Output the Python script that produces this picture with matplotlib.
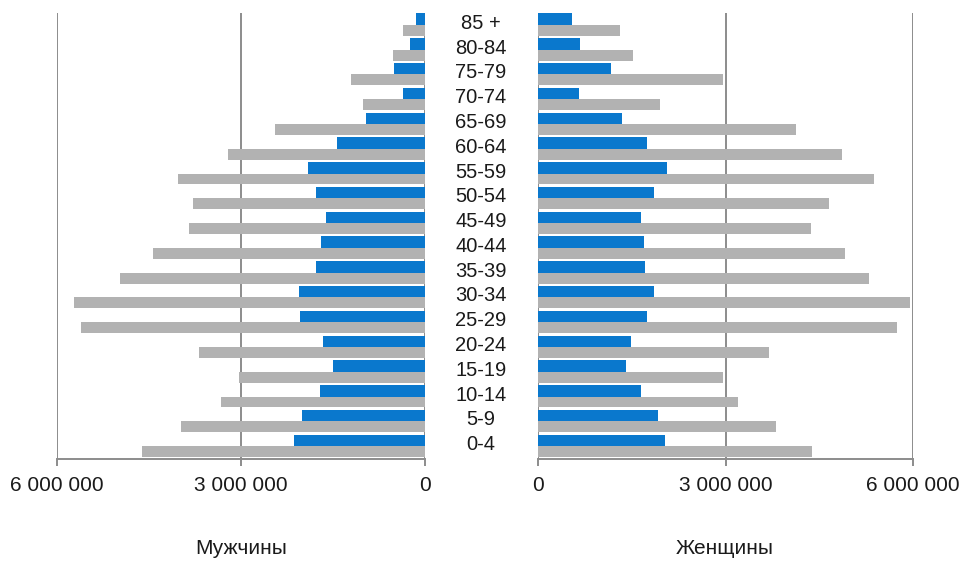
import matplotlib
matplotlib.use("Agg")
import matplotlib.pyplot as plt
from matplotlib.ticker import FuncFormatter
import numpy as np

ages = ["0-4", "5-9", "10-14", "15-19", "20-24", "25-29", "30-34", "35-39", "40-44",
		"45-49", "50-54", "55-59", "60-64", "65-69", "70-74", "75-79", "80-84", "85 +"]

# values, in millions, from youngest to oldest
men_blue = [2.14, 2.01, 1.72, 1.50, 1.67, 2.04, 2.05, 1.78, 1.69,
			1.62, 1.78, 1.90, 1.43, 0.96, 0.36, 0.51, 0.24, 0.15]
men_gray = [4.61, 3.98, 3.32, 3.03, 3.69, 5.61, 5.72, 4.98, 4.43,
			3.84, 3.79, 4.02, 3.22, 2.44, 1.01, 1.21, 0.52, 0.36]
women_blue = [2.03, 1.92, 1.64, 1.41, 1.48, 1.74, 1.85, 1.71, 1.69,
			  1.65, 1.85, 2.06, 1.75, 1.35, 0.65, 1.16, 0.67, 0.54]
women_gray = [4.39, 3.80, 3.20, 2.96, 3.70, 5.75, 5.95, 5.30, 4.91,
			  4.36, 4.65, 5.37, 4.87, 4.12, 1.95, 2.96, 1.52, 1.31]

ticks = [0, 3000000, 6000000]
blue = "#0A78CD"
gray = "#B2B2B2"
line_color = "#8C8C8C"

plt.rcParams["font.family"] = ["Liberation Sans", "DejaVu Sans"]

figure = plt.figure(figsize = (9.64, 5.84), dpi = 100)
left = figure.add_axes([57 / 964, 1 - 459 / 584, 368 / 964, 446 / 584])
right = figure.add_axes([538 / 964, 1 - 459 / 584, 375 / 964, 446 / 584])

y = np.arange(len(ages))

def space_thousands(value, position):
	return f"{int(value):,}".replace(",", " ")

for axes, blue_values, gray_values in ((left, men_blue, men_gray), (right, women_blue, women_gray)):
	axes.barh(y + 0.02, np.array(blue_values) * 1e6, height = 0.46, align = "edge", color = blue, zorder = 3)
	axes.barh(y - 0.42, np.array(gray_values) * 1e6, height = 0.44, align = "edge", color = gray, zorder = 3)
	axes.set_ylim(-0.5, 17.5)
	axes.set_yticks([])
	axes.set_xticks(ticks)
	axes.xaxis.set_major_formatter(FuncFormatter(space_thousands))
	axes.grid(axis = "x", color = line_color, linewidth = 1.4, zorder = 1)
	for side in ("top", "left", "right"):
		axes.spines[side].set_visible(False)
	axes.spines["bottom"].set_color(line_color)
	axes.spines["bottom"].set_linewidth(1.4)
	axes.tick_params(axis = "x", direction = "out", length = 5, width = 1.4, color = line_color,
					 labelsize = 15, labelcolor = "#1A1A1A", pad = 7)

left.set_xlim(6000000, 0)
right.set_xlim(0, 6000000)

# age group labels between the two halves
for position, age in zip(y, ages):
	figure.text(481 / 964, left.transData.transform((0, position + 0.08))[1] / 584, age,
				ha = "center", va = "center", fontsize = 14.5, color = "#1A1A1A")

figure.text(241 / 964, 1 - 548 / 584, "Мужчины", ha = "center", va = "center", fontsize = 15, color = "#1A1A1A")
figure.text(725 / 964, 1 - 548 / 584, "Женщины", ha = "center", va = "center", fontsize = 15, color = "#1A1A1A")

figure.savefig("out.png", dpi = 100)
